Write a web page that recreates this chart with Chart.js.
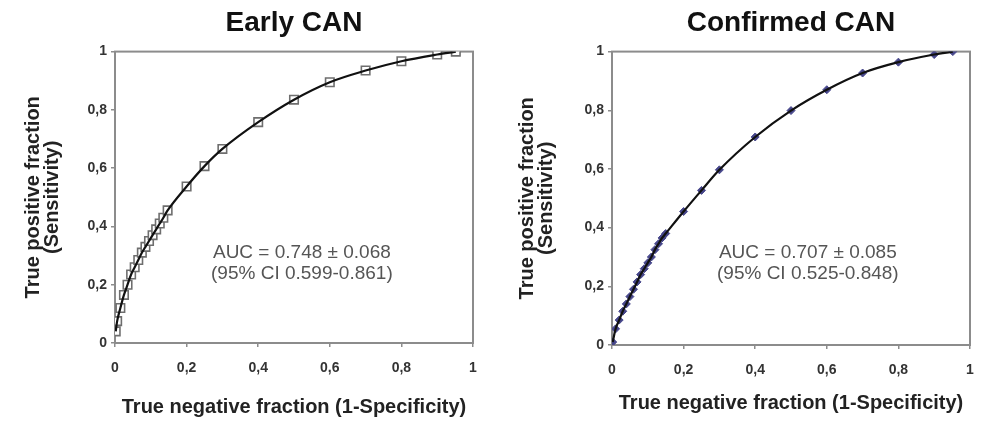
<!DOCTYPE html>
<html>
<head>
<meta charset="utf-8">
<script src="https://cdn.jsdelivr.net/npm/chart.js@4"></script>
<style>
  html, body { margin: 0; padding: 0; background: #fff; }
  #wrap { position: relative; width: 989px; height: 422px; }
  canvas { position: absolute; top: 0; }
</style>
</head>
<body>
<div id="wrap">
  <canvas id="early" width="494" height="422" style="left:0"></canvas>
  <canvas id="confirmed" width="495" height="422" style="left:494px"></canvas>
</div>
<script>
// ---- data ----
const earlyX = [0.002, 0.006, 0.015, 0.025, 0.035, 0.045, 0.055, 0.065, 0.075, 0.085, 0.095, 0.105, 0.115, 0.125, 0.135, 0.147, 0.2, 0.25, 0.3, 0.4, 0.5, 0.6, 0.7, 0.8, 0.9, 0.952];
const earlyY = [0.04, 0.075, 0.12, 0.165, 0.2, 0.235, 0.26, 0.285, 0.31, 0.33, 0.35, 0.37, 0.39, 0.41, 0.43, 0.455, 0.537, 0.607, 0.666, 0.758, 0.835, 0.895, 0.935, 0.967, 0.99, 1.0];

const confX = [0.002, 0.01, 0.02, 0.03, 0.04, 0.05, 0.06, 0.07, 0.08, 0.09, 0.1, 0.11, 0.12, 0.13, 0.14, 0.15, 0.2, 0.25, 0.3, 0.4, 0.5, 0.6, 0.7, 0.8, 0.9, 0.952];
const confY = [0.01, 0.055, 0.085, 0.115, 0.14, 0.165, 0.19, 0.215, 0.24, 0.26, 0.28, 0.3, 0.325, 0.345, 0.365, 0.38, 0.455, 0.527, 0.597, 0.709, 0.799, 0.87, 0.927, 0.964, 0.99, 1.0];

const tickValues = [0, 0.2, 0.4, 0.6, 0.8, 1];
const yTitle = ['True positive fraction', '(Sensitivity)'];
const xTitle = 'True negative fraction (1-Specificity)';

const FONT = 'Arial, "Liberation Sans", sans-serif';

function toPoints(xs, ys) {
  return xs.map((x, i) => ({ x: x, y: ys[i] }));
}

// grey frame all round the plot + the AUC note
const framePlugin = {
  id: 'frame',
  beforeDatasetsDraw(chart) {
    const a = chart.chartArea, ctx = chart.ctx;
    ctx.save();
    ctx.strokeStyle = '#8c8c8c';
    ctx.lineWidth = 2;
    ctx.strokeRect(a.left, a.top, a.right - a.left, a.bottom - a.top);
    ctx.restore();
  },
  afterDraw(chart) {
    const note = chart.options.plugins.frame;
    if (!note || !note.lines) return;
    const ctx = chart.ctx;
    const sx = chart.scales.x, sy = chart.scales.y;
    ctx.save();
    ctx.font = '19px ' + FONT;
    ctx.fillStyle = '#555';
    ctx.textAlign = 'center';
    ctx.textBaseline = 'middle';
    note.lines.forEach((t, i) => {
      ctx.fillText(t, sx.getPixelForValue(note.x), sy.getPixelForValue(note.y) + i * note.gap);
    });
    ctx.restore();
  }
};

function makeChart(id, title, xs, ys, pointOpts, box) {
  const ctx = document.getElementById(id).getContext('2d');
  return new Chart(ctx, {
    type: 'scatter',
    data: {
      datasets: [
        {
          // curve on top of the markers
          data: toPoints(xs, ys),
          showLine: true,
          borderColor: '#111',
          borderWidth: 2.2,
          cubicInterpolationMode: 'monotone',
          pointRadius: 0,
          order: 0
        },
        Object.assign({
          data: toPoints(xs, ys),
          showLine: false,
          order: 1
        }, pointOpts)
      ]
    },
    options: {
      responsive: false,
      animation: false,
      layout: { padding: { left: 0, right: box.padRight, top: 0, bottom: 0 } },
      plugins: {
        legend: { display: false },
        tooltip: { enabled: false },
        title: {
          display: true,
          text: title,
          fullSize: false,
          color: '#111',
          font: { family: FONT, size: 28, weight: 'bold', lineHeight: 1.2 },
          padding: { top: 6, bottom: 12 }
        },
        frame: box.note
      },
      scales: {
        x: {
          type: 'linear',
          min: 0, max: 1,
          afterBuildTicks(s) { s.ticks = tickValues.map(v => ({ value: v })); },
          afterFit(s) { s.height = box.xHeight; },
          ticks: {
            color: '#333',
            font: { family: FONT, size: 14, weight: 'bold' },
            padding: 13,
            callback: v => String(Number(v.toFixed(1))).replace('.', ',')
          },
          grid: { drawOnChartArea: false, drawTicks: true, tickLength: 4, color: '#8c8c8c', lineWidth: 1.5 },
          border: { color: '#8c8c8c', width: 2 },
          title: {
            display: true,
            text: xTitle,
            color: '#222',
            font: { family: FONT, size: 20, weight: 'bold', lineHeight: 0.95 },
            padding: { top: 0, bottom: box.xTitlePad }
          }
        },
        y: {
          type: 'linear',
          min: 0, max: 1,
          afterBuildTicks(s) { s.ticks = tickValues.map(v => ({ value: v })); },
          afterFit(s) { s.width = box.yWidth; },
          ticks: {
            color: '#333',
            font: { family: FONT, size: 14, weight: 'bold' },
            padding: 4,
            callback: v => String(Number(v.toFixed(1))).replace('.', ',')
          },
          grid: { drawOnChartArea: false, drawTicks: true, tickLength: 4, color: '#8c8c8c', lineWidth: 1.5 },
          border: { color: '#8c8c8c', width: 2 },
          title: {
            display: true,
            text: yTitle,
            color: '#222',
            font: { family: FONT, size: 20, weight: 'bold', lineHeight: 0.95 },
            padding: { top: 23.5, bottom: 0 }
          }
        }
      }
    },
    plugins: [framePlugin]
  });
}

makeChart('early', 'Early CAN', earlyX, earlyY, {
  pointStyle: 'rect',
  pointRadius: 6,
  pointBackgroundColor: '#fff',
  pointBorderColor: '#6e6e6e',
  pointBorderWidth: 1.6
}, {
  padRight: 21, yWidth: 115, xHeight: 79, xTitlePad: 5.5,
  note: { x: 0.522, y: 0.309, gap: 21, lines: ['AUC = 0.748 \u00b1 0.068', '(95% CI 0.599-0.861)'] }
});

makeChart('confirmed', 'Confirmed CAN', confX, confY, {
  pointStyle: 'rectRot',
  pointRadius: 4,
  pointBackgroundColor: '#46468a',
  pointBorderColor: '#46468a',
  pointBorderWidth: 1
}, {
  padRight: 19, yWidth: 118, xHeight: 77, xTitlePad: 9.5,
  note: { x: 0.547, y: 0.314, gap: 21, lines: ['AUC = 0.707 \u00b1 0.085', '(95% CI 0.525-0.848)'] }
});
</script>
</body>
</html>
